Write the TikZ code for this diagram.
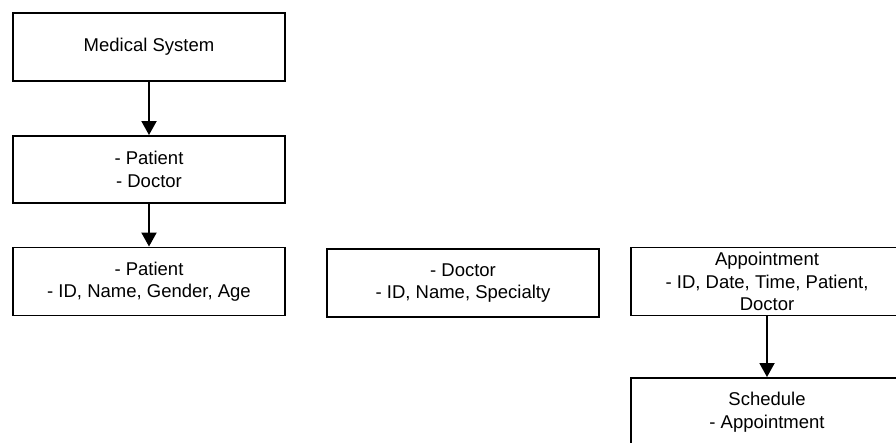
\documentclass[tikz,border=0pt]{standalone}
\usepackage{fontspec}
\setmainfont{Liberation Sans}
\usetikzlibrary{arrows.meta}
\begin{document}
\begin{tikzpicture}[x=1pt,y=-1pt,
  entity/.style={draw=black, line width=1.9pt, fill=white, minimum width=272pt,
    minimum height=68pt, inner sep=0pt, align=center,
    font=\fontsize{18.5}{22.5}\selectfont},
  link/.style={line width=1.9pt, -{Triangle[width=15pt,length=14pt]}}]
  \useasboundingbox (0,0) rectangle (896,443);
  \clip (0,0) rectangle (896,443);
  \fill[white] (0,0) rectangle (896,443);

  % top-level system and its two actors
  \node[entity] (sys) at (149,47) {Medical System};
  \node[entity, minimum height=67pt] (actors) at (149,169.5) {- Patient\\- Doctor};

  % entity records
  \node[entity] (patient) at (149,281.5) {- Patient\\- ID, Name, Gender, Age};
  \node[entity] (doctor) at (463,283) {- Doctor\\- ID, Name, Specialty};
  \node[entity] (appt) at (767,281.5) {Appointment\\- ID, Date, Time, Patient,\\Doctor};
  \node[entity] (sched) at (767,412) {Schedule\\- Appointment};

  % connectors
  \draw[link] (sys.south) -- (actors.north);
  \draw[link] (actors.south) -- (patient.north);
  \draw[link] (appt.south) -- (sched.north);
\end{tikzpicture}
\end{document}
